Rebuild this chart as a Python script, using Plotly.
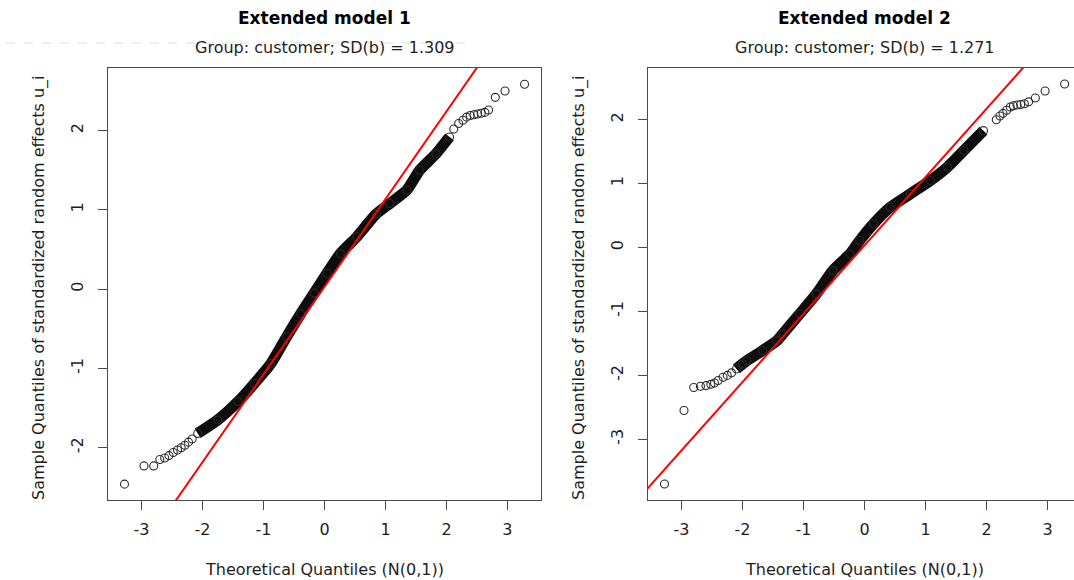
import plotly.graph_objects as go

# ---------------- data ----------------
titles = ["Extended model 1", "Extended model 2"]
subtitles = ["Group: customer; SD(b) = 1.309", "Group: customer; SD(b) = 1.271"]
x_title = "Theoretical Quantiles (N(0,1))"
y_title = "Sample Quantiles of standardized random effects u_i"

x_ticks = [-3, -2, -1, 0, 1, 2, 3]
y_ticks_1 = [-2, -1, 0, 1, 2]
y_ticks_2 = [-3, -2, -1, 0, 1, 2]

# panel 1: theoretical quantile / sample quantile
q1 = [-3.28, -2.96, -2.80, -2.70, -2.62, -2.55, -2.48, -2.41, -2.35, -2.29, -2.23, -2.17,
      -2.08, -1.75, -1.42, -1.15, -0.88, -0.62, -0.39, -0.17, 0.04, 0.26, 0.53, 0.85,
      1.07, 1.35, 1.56, 1.83, 2.05,
      2.12, 2.20, 2.27, 2.33, 2.39, 2.45, 2.51, 2.57, 2.63, 2.69, 2.80, 2.96, 3.28]
s1 = [-2.46, -2.23, -2.23, -2.15, -2.13, -2.10, -2.06, -2.03, -2.00, -1.97, -1.93, -1.89,
      -1.82, -1.65, -1.42, -1.19, -0.94, -0.60, -0.31, -0.05, 0.20, 0.45, 0.66, 0.95,
      1.08, 1.25, 1.50, 1.71, 1.92,
      2.02, 2.09, 2.13, 2.17, 2.19, 2.20, 2.21, 2.22, 2.23, 2.26, 2.42, 2.50, 2.585]

# panel 2
q2 = [-3.28, -2.96, -2.80, -2.69, -2.60, -2.52, -2.46, -2.40, -2.32, -2.25, -2.18, -2.10,
      -2.00, -1.93, -1.67, -1.44, -1.34, -1.065, -0.79, -0.52, -0.24, -0.08, 0.145, 0.42,
      0.75, 1.08, 1.36, 1.63, 1.95,
      2.16, 2.22, 2.27, 2.33, 2.39, 2.44, 2.50, 2.56, 2.62, 2.69, 2.80, 2.96, 3.28]
s2 = [-3.70, -2.55, -2.19, -2.17, -2.16, -2.14, -2.12, -2.08, -2.03, -2.00, -1.96, -1.90,
      -1.82, -1.77, -1.61, -1.46, -1.35, -1.04, -0.725, -0.36, -0.10, 0.11, 0.37, 0.63,
      0.84, 1.05, 1.26, 1.52, 1.83,
      2.00, 2.06, 2.10, 2.15, 2.20, 2.22, 2.23, 2.24, 2.25, 2.28, 2.34, 2.45, 2.56]

# qqline (intercept, slope)
qqline_1 = (0.03, 1.106)
qqline_2 = (0.034, 1.069)

band_limit = 2.1  # dense, fully overlapping region

# ---------------- figure ----------------
W, H = 1074, 580
FONT = "DejaVu Sans"
INK = "#1e1e1e"
FS = 16

fig = go.Figure()

panels = [
    dict(q=q1, s=s1, line=qqline_1, xa="x", ya="y"),
    dict(q=q2, s=s2, line=qqline_2, xa="x2", ya="y2"),
]
for p in panels:
    bq = [a for a in p["q"] if abs(a) <= band_limit]
    bs = [b for a, b in zip(p["q"], p["s"]) if abs(a) <= band_limit]
    fig.add_trace(go.Scatter(x=bq, y=bs, mode="lines",
                             line=dict(color="#0d0d0d", width=11, shape="spline", smoothing=0.6),
                             xaxis=p["xa"], yaxis=p["ya"], hoverinfo="skip", showlegend=False))
    fig.add_trace(go.Scatter(x=p["q"], y=p["s"], mode="markers",
                             marker=dict(symbol="circle-open", size=8, color="#2a2a2a",
                                         line=dict(width=1.1)),
                             xaxis=p["xa"], yaxis=p["ya"], showlegend=False))
    a, b = p["line"]
    lx = [-4.5, 4.5]
    fig.add_trace(go.Scatter(x=lx, y=[a + b * v for v in lx], mode="lines",
                             line=dict(color="#ff0000", width=2),
                             xaxis=p["xa"], yaxis=p["ya"], hoverinfo="skip", showlegend=False))

ydom = [80 / H, 512 / H]
common_ax = dict(showgrid=False, zeroline=False, showline=True, linecolor="#4a4a4a", linewidth=1,
                 ticks="outside", ticklen=9, tickwidth=1, tickcolor="#4a4a4a",
                 tickfont=dict(family=FONT, size=FS, color=INK))

def labels(vals):
    return [str(v) for v in vals]

fig.update_layout(
    width=W, height=H,
    margin=dict(l=0, r=0, t=0, b=0),
    paper_bgcolor="white", plot_bgcolor="white",
    font=dict(family=FONT, color=INK),
    xaxis=dict(domain=[108 / W, 541 / W], range=[-3.55, 3.55], tickvals=x_ticks,
               ticktext=labels(x_ticks), anchor="y", mirror=True, ticklabelstandoff=6, **common_ax),
    yaxis=dict(domain=ydom, range=[-2.66, 2.79], tickvals=y_ticks_1, ticktext=labels(y_ticks_1),
               tickangle=-90, anchor="x", mirror=True, ticklabelstandoff=9, **common_ax),
    xaxis2=dict(domain=[648 / W, 1.0], range=[-3.55, 3.434], tickvals=x_ticks,
                ticktext=labels(x_ticks), anchor="y2", mirror=True, ticklabelstandoff=6, **common_ax),
    yaxis2=dict(domain=ydom, range=[-3.95, 2.81], tickvals=y_ticks_2, ticktext=labels(y_ticks_2),
                tickangle=-90, anchor="x2", mirror=False, ticklabelstandoff=9, **common_ax),
)

centers = [324.5, 864.5]
ytitle_x = [39, 579]
ann = []
for i in range(2):
    cx = centers[i] / W
    ann.append(dict(x=cx, y=1 - 18 / H, xref="paper", yref="paper", text="<b>%s</b>" % titles[i],
                    showarrow=False, xanchor="center", yanchor="middle",
                    font=dict(family=FONT, size=17, color="#000000")))
    ann.append(dict(x=cx, y=1 - 48 / H, xref="paper", yref="paper", text=subtitles[i],
                    showarrow=False, xanchor="center", yanchor="middle",
                    font=dict(family=FONT, size=FS, color=INK)))
    ann.append(dict(x=cx, y=1 - 569 / H, xref="paper", yref="paper", text=x_title,
                    showarrow=False, xanchor="center", yanchor="middle",
                    font=dict(family=FONT, size=FS, color=INK)))
    ann.append(dict(x=ytitle_x[i] / W, y=1 - 288 / H, xref="paper", yref="paper", text=y_title,
                    showarrow=False, xanchor="center", yanchor="middle", textangle=-90,
                    font=dict(family=FONT, size=FS, color=INK)))
fig.update_layout(annotations=ann)

# faint dashed artefact line below the first title
fig.add_shape(type="line", xref="paper", yref="paper", x0=6 / W, x1=472 / W,
              y0=1 - 43 / H, y1=1 - 43 / H, line=dict(color="#dddddd", width=1, dash="dash"))

fig.write_html("out.html", config={"displayModeBar": False},
               post_script="document.body.style.margin='0px';document.body.style.overflow='hidden';")
